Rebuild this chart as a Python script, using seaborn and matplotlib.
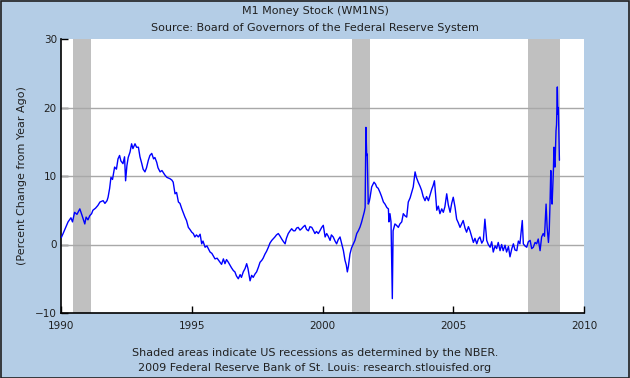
# M1 Money Stock (WM1NS), percent change from year ago -- FRED style chart

import numpy as np
import pandas as pd
import matplotlib
matplotlib.use('Agg')
import matplotlib.pyplot as plt
import seaborn as sns

# Data (decimal year, % change from year ago)
years = [
    1990.01, 1990.08, 1990.19, 1990.27, 1990.38, 1990.44, 1990.52, 1990.61, 1990.72, 1990.80,
    1990.91, 1990.96, 1991.03, 1991.10, 1991.17, 1991.22, 1991.32, 1991.41, 1991.49, 1991.61,
    1991.68, 1991.76, 1991.80, 1991.86, 1991.91, 1991.97, 1992.05, 1992.12, 1992.18, 1992.24,
    1992.29, 1992.37, 1992.43, 1992.47, 1992.52, 1992.57, 1992.64, 1992.70, 1992.75, 1992.83,
    1992.89, 1992.96, 1993.02, 1993.09, 1993.14, 1993.21, 1993.27, 1993.34, 1993.40, 1993.47,
    1993.54, 1993.59, 1993.66, 1993.71, 1993.79, 1993.86, 1993.98, 1994.05, 1994.17, 1994.24,
    1994.29, 1994.36, 1994.42, 1994.49, 1994.55, 1994.62, 1994.68, 1994.74, 1994.80, 1994.87,
    1994.93, 1995.00, 1995.06, 1995.12, 1995.18, 1995.25, 1995.32, 1995.38, 1995.43, 1995.51,
    1995.58, 1995.70, 1995.77, 1995.89, 1995.97, 1996.08, 1996.14, 1996.21, 1996.27, 1996.33,
    1996.40, 1996.46, 1996.52, 1996.59, 1996.65, 1996.71, 1996.78, 1996.85, 1996.90, 1996.97,
    1997.04, 1997.10, 1997.15, 1997.23, 1997.29, 1997.35, 1997.42, 1997.48, 1997.55, 1997.61,
    1997.68, 1997.73, 1997.80, 1997.86, 1997.93, 1997.99, 1998.06, 1998.13, 1998.18, 1998.24,
    1998.31, 1998.38, 1998.44, 1998.51, 1998.57, 1998.62, 1998.69, 1998.76, 1998.82, 1998.89,
    1998.95, 1999.01, 1999.07, 1999.14, 1999.20, 1999.27, 1999.33, 1999.39, 1999.46, 1999.52,
    1999.59, 1999.66, 1999.71, 1999.77, 1999.84, 1999.90, 1999.97, 2000.03, 2000.10, 2000.16,
    2000.22, 2000.29, 2000.34, 2000.41, 2000.48, 2000.54, 2000.60, 2000.67, 2000.73, 2000.80,
    2000.86, 2000.91, 2000.95, 2000.99, 2001.05, 2001.11, 2001.18, 2001.24, 2001.31, 2001.37,
    2001.43, 2001.49, 2001.56, 2001.60, 2001.63, 2001.66, 2001.69, 2001.71, 2001.75, 2001.79,
    2001.82, 2001.88, 2001.93, 2001.97, 2002.03, 2002.07, 2002.13, 2002.20, 2002.26, 2002.33,
    2002.39, 2002.46, 2002.52, 2002.54, 2002.58, 2002.62, 2002.67, 2002.70, 2002.77, 2002.83,
    2002.90, 2002.96, 2003.03, 2003.09, 2003.15, 2003.22, 2003.28, 2003.35, 2003.41, 2003.47,
    2003.54, 2003.59, 2003.66, 2003.73, 2003.79, 2003.85, 2003.92, 2003.98, 2004.05, 2004.11,
    2004.18, 2004.23, 2004.28, 2004.32, 2004.37, 2004.43, 2004.49, 2004.56, 2004.62, 2004.68,
    2004.75, 2004.81, 2004.88, 2004.94, 2005.00, 2005.07, 2005.13, 2005.19, 2005.26, 2005.32,
    2005.38, 2005.45, 2005.51, 2005.58, 2005.64, 2005.71, 2005.77, 2005.83, 2005.90, 2005.96,
    2006.02, 2006.09, 2006.15, 2006.21, 2006.28, 2006.34, 2006.41, 2006.47, 2006.53, 2006.60,
    2006.66, 2006.72, 2006.79, 2006.85, 2006.91, 2006.98, 2007.04, 2007.11, 2007.17, 2007.24,
    2007.30, 2007.36, 2007.43, 2007.49, 2007.55, 2007.64, 2007.68, 2007.74, 2007.81, 2007.87,
    2007.94, 2008.00, 2008.06, 2008.13, 2008.19, 2008.25, 2008.32, 2008.38, 2008.44, 2008.49,
    2008.55, 2008.59, 2008.64, 2008.67, 2008.70, 2008.73, 2008.75, 2008.78, 2008.80, 2008.83,
    2008.85, 2008.87, 2008.89, 2008.93, 2008.95, 2008.98, 2009.00, 2009.02, 2009.04, 2009.06,
]
pct_change = [
    1.0, 1.6, 2.6, 3.3, 3.9, 3.3, 4.7, 4.4, 5.2, 4.3,
    3.0, 4.0, 3.6, 4.2, 4.5, 5.0, 5.3, 5.7, 6.2, 6.4,
    6.0, 6.4, 6.9, 8.2, 9.8, 9.5, 11.3, 11.0, 12.5, 13.0,
    12.2, 11.8, 12.8, 9.3, 11.5, 12.7, 13.5, 14.7, 14.0, 14.7,
    14.2, 14.2, 12.8, 11.8, 11.0, 10.6, 11.2, 12.3, 13.0, 13.3,
    12.5, 12.7, 12.0, 11.2, 10.6, 10.8, 10.1, 9.8, 9.6, 9.4,
    9.1, 7.4, 7.6, 6.2, 6.0, 5.2, 4.6, 4.0, 3.5, 2.5,
    2.2, 1.8, 1.6, 1.1, 1.4, 1.1, 1.5, 0.1, 0.5, -0.4,
    -0.2, -1.1, -1.3, -2.1, -2.0, -2.6, -2.9, -2.1, -2.8, -2.2,
    -2.6, -3.0, -3.4, -3.8, -4.0, -4.6, -5.0, -4.4, -4.8, -4.0,
    -3.5, -2.8, -3.5, -5.3, -4.5, -4.8, -4.3, -4.0, -3.3, -2.6,
    -2.3, -2.0, -1.4, -1.0, -0.4, 0.2, 0.6, 0.9, 1.1, 1.4,
    1.6, 1.2, 0.8, 0.4, 0.1, 0.9, 1.6, 2.0, 2.3, 2.0,
    2.0, 2.4, 2.5, 2.1, 2.3, 2.6, 2.8, 2.2, 2.0, 2.6,
    2.5, 2.0, 1.6, 1.9, 1.6, 2.0, 2.5, 2.8, 1.1, 1.6,
    1.2, 0.6, 1.4, 1.1, 0.5, 0.1, 0.7, 1.1, 0.2, -0.9,
    -2.3, -3.0, -4.0, -3.2, -1.4, -0.5, 0.1, 0.6, 1.6, 2.0,
    2.5, 3.2, 4.2, 4.8, 5.4, 17.1, 13.0, 13.2, 5.9, 6.3,
    6.9, 8.4, 8.8, 9.1, 8.8, 8.4, 8.2, 7.6, 7.0, 6.2,
    5.9, 5.4, 5.2, 3.3, 4.5, 3.3, -7.9, 2.0, 3.0, 2.8,
    2.5, 3.0, 3.3, 4.5, 4.2, 4.0, 6.2, 6.8, 7.6, 8.4,
    10.6, 9.8, 9.1, 8.5, 7.9, 7.0, 6.4, 7.0, 6.4, 7.2,
    8.1, 8.6, 9.3, 7.5, 5.0, 5.6, 4.5, 5.2, 4.7, 5.5,
    7.4, 5.8, 4.7, 6.0, 6.9, 5.4, 3.7, 3.2, 2.5, 3.0,
    3.5, 2.4, 1.8, 2.6, 2.0, 1.1, 0.3, 0.9, 0.1, 0.8,
    1.1, 0.2, 0.6, 3.7, 0.6, 0.0, -0.4, 0.4, -1.1, -0.2,
    -0.6, 0.3, -0.9, 0.0, -0.9, -0.1, -1.1, -0.3, -1.8, -0.6,
    0.1, -0.8, -0.9, 0.5, 0.1, 3.5, 0.1, -0.2, -0.4, 0.4,
    0.6, -0.6, -0.4, 0.3, 0.1, 0.8, -0.9, 1.1, 1.6, 1.2,
    5.9, 2.5, 0.3, 2.0, 5.9, 10.8, 7.0, 5.9, 8.0, 10.8,
    14.2, 12.0, 11.3, 16.6, 17.5, 23.0, 19.0, 20.0, 16.0, 12.3,
]

# NBER recessions as shaded on the chart
recession_start = [1990.46, 2001.13, 2007.85]
recession_end = [1991.14, 2001.80, 2009.10]

x_ticks = [1990, 1995, 2000, 2005, 2010]
y_ticks = [-10, 0, 10, 20, 30]
grid_levels = [0, 10, 20]

df = pd.DataFrame({'year': years, 'pct': pct_change})

bg = '#B4CDE6'

sns.set_style('ticks')
plt.rcParams['font.family'] = ['DejaVu Sans']

fig = plt.figure(figsize=(6.3, 3.78), dpi=100, facecolor=bg)
ax = fig.add_axes([61/630, 1 - 313/378, (584 - 61)/630, (313 - 39)/378])
ax.set_facecolor('white')

for s, e in zip(recession_start, recession_end):
    ax.axvspan(s, e, color='#C0C0C0', lw=0, zorder=1)

for g in grid_levels:
    ax.axhline(g, color='#A8A8A8', lw=1.0, zorder=2)

sns.lineplot(data=df, x='year', y='pct', ax=ax, color='#0000FF', lw=1.0, zorder=3)

ax.set_xlim(1990, 2010)
ax.set_ylim(-10, 30)
ax.set_xticks(x_ticks)
ax.set_yticks(y_ticks)
ax.set_xticklabels([str(t) for t in x_ticks])
ax.set_yticklabels([str(t).replace('-', '\u2212') for t in y_ticks])
ax.tick_params(direction='in', length=5, width=1, color='black', labelsize=7.5,
               labelcolor='#202020', pad=3)
ax.tick_params(axis='x', pad=6)

for side in ['top', 'right']:
    ax.spines[side].set_visible(False)
for side in ['left', 'bottom']:
    ax.spines[side].set_color('black')
    ax.spines[side].set_linewidth(1.2)

ax.set_xlabel('')
ax.set_ylabel('(Percent Change from Year Ago)', fontsize=8, color='#202020', labelpad=6)

fig.text(0.5, 1 - 11/378, 'M1 Money Stock (WM1NS)', ha='center', va='center',
         fontsize=8, color='#202020')
fig.text(0.5, 1 - 28/378, 'Source: Board of Governors of the Federal Reserve System',
         ha='center', va='center', fontsize=8, color='#202020')
fig.text(0.5, 1 - 353/378, 'Shaded areas indicate US recessions as determined by the NBER.',
         ha='center', va='center', fontsize=8, color='#202020')
fig.text(0.5, 1 - 368/378, '2009 Federal Reserve Bank of St. Louis: research.stlouisfed.org',
         ha='center', va='center', fontsize=8, color='#202020')

# thin dark border round the whole picture
fig.patches.append(matplotlib.patches.Rectangle((0.001, 0.001), 0.998, 0.997,
                   transform=fig.transFigure, fill=False, ec='#202020', lw=1.2))

fig.savefig('out.png', dpi=100, facecolor=bg)
